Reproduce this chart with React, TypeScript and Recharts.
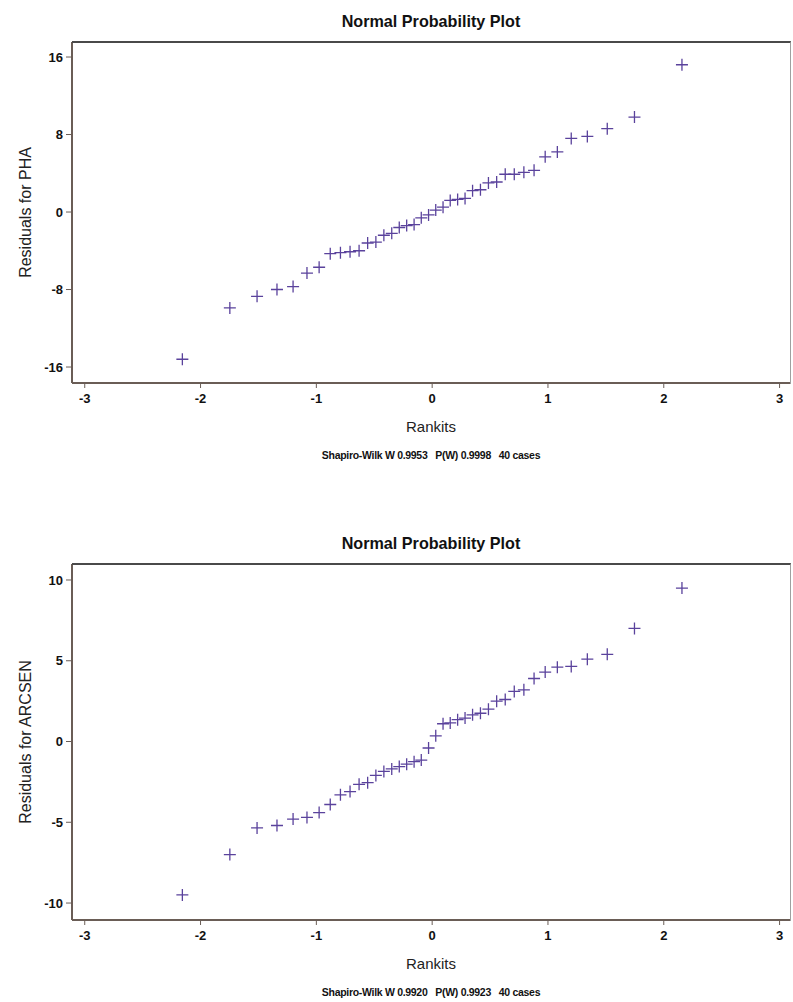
import React from 'react'
import { ScatterChart, Scatter, XAxis, YAxis } from 'recharts'

// rankits for 40 cases (expected normal scores)
const rankits = [
  -2.157, -1.747, -1.512, -1.34, -1.201, -1.081, -0.976, -0.88, -0.792, -0.709,
  -0.631, -0.557, -0.486, -0.417, -0.349, -0.284, -0.22, -0.156, -0.094, -0.031,
  0.031, 0.094, 0.156, 0.22, 0.284, 0.349, 0.417, 0.486, 0.557, 0.631,
  0.709, 0.792, 0.88, 0.976, 1.081, 1.201, 1.34, 1.512, 1.747, 2.157,
]

const phaResiduals = [
  -15.2, -9.9, -8.7, -8.0, -7.7, -6.3, -5.7, -4.3, -4.2, -4.1,
  -4.0, -3.2, -3.1, -2.4, -2.2, -1.6, -1.4, -1.3, -0.6, -0.3,
  0.2, 0.5, 1.2, 1.3, 1.4, 2.2, 2.3, 3.0, 3.1, 3.9,
  3.9, 4.1, 4.3, 5.7, 6.2, 7.6, 7.8, 8.6, 9.8, 15.2,
]

const arcsenResiduals = [
  -9.5, -7.0, -5.35, -5.2, -4.8, -4.7, -4.4, -3.9, -3.3, -3.1,
  -2.65, -2.55, -2.1, -1.85, -1.7, -1.55, -1.4, -1.25, -1.15, -0.4,
  0.35, 1.1, 1.15, 1.35, 1.45, 1.65, 1.75, 2.0, 2.5, 2.6,
  3.1, 3.2, 3.9, 4.3, 4.6, 4.65, 5.1, 5.4, 7.0, 9.5,
]

const xTicks = [-3, -2, -1, 0, 1, 2, 3]
const phaTicks = [-16, -8, 0, 8, 16]
const arcsenTicks = [-10, -5, 0, 5, 10]

const FONT = '"Liberation Sans", Arial, sans-serif'
const MARK = '#5a429c'

const Cross = (props: any) => {
  const { cx, cy } = props
  if (cx == null || cy == null) return null
  return (
    <path
      d={`M${cx - 6},${cy}H${cx + 6}M${cx},${cy - 6}V${cy + 6}`}
      stroke={MARK}
      strokeWidth={1.3}
      fill="none"
    />
  )
}

interface PlotProps {
  top: number
  values: number[]
  yDomain: [number, number]
  yTicks: number[]
  yLabel: string
  subtitle: string
  plotTop: number
  plotBottom: number
  height: number
}

const ProbPlot: React.FC<PlotProps> = ({
  top, values, yDomain, yTicks, yLabel, subtitle, plotTop, plotBottom, height,
}) => {
  const data = rankits.map((r, i) => ({ x: r, y: values[i] }))
  const tickStyle = { fontSize: 13, fontWeight: 700, fill: '#111', fontFamily: FONT }
  return (
    <div style={{ position: 'absolute', left: 0, top, width: 793, height }}>
      <div
        style={{
          position: 'absolute', left: 72, width: 718, top: plotTop - 30, textAlign: 'center',
          fontFamily: FONT, fontWeight: 700, fontSize: 17, color: '#111', transform: 'scaleX(0.95)',
        }}
      >
        Normal Probability Plot
      </div>
      <ScatterChart
        width={793}
        height={height}
        margin={{ top: plotTop, right: 3, bottom: 0, left: 0 }}
      >
        <XAxis
          type="number"
          dataKey="x"
          domain={[-3.11, 3.09]}
          ticks={xTicks}
          allowDataOverflow
          height={height - plotBottom}
          tickSize={5}
          tickMargin={6}
          tick={tickStyle}
          axisLine={{ stroke: '#6a5d56', strokeWidth: 2 }}
          tickLine={{ stroke: '#6a5d56' }}
        />
        <YAxis
          type="number"
          dataKey="y"
          domain={yDomain}
          ticks={yTicks}
          allowDataOverflow
          width={72}
          tickSize={6}
          tickMargin={3}
          tick={tickStyle}
          axisLine={{ stroke: '#6a5d56', strokeWidth: 2 }}
          tickLine={{ stroke: '#6a5d56' }}
          label={{
            value: yLabel,
            content: (p: any) => {
              const vb = p.viewBox || {}
              const cy = vb.y + vb.height / 2
              return (
                <text
                  x={25}
                  y={cy}
                  transform={`rotate(-90 25 ${cy})`}
                  textAnchor="middle"
                  dominantBaseline="central"
                  fontSize={16}
                  fontFamily={FONT}
                  fill="#222"
                >
                  {yLabel}
                </text>
              )
            },
          }}
        />
        <Scatter data={data} shape={<Cross />} isAnimationActive={false} />
      </ScatterChart>
      {/* top and right edges of the plot frame */}
      <div
        style={{
          position: 'absolute', left: 72, top: plotTop - 1, width: 718, height: plotBottom - plotTop,
          borderTop: '2px solid #4a4a4a', borderRight: '1px solid #a0a0a0', pointerEvents: 'none',
        }}
      />
      <div
        style={{
          position: 'absolute', left: 72, width: 718, top: plotBottom + 35, textAlign: 'center',
          fontFamily: FONT, fontSize: 15, color: '#222',
        }}
      >
        Rankits
      </div>
      <div
        style={{
          position: 'absolute', left: 72, width: 718, top: plotBottom + 66, textAlign: 'center',
          fontFamily: FONT, fontWeight: 700, fontSize: 10.5, color: '#111', whiteSpace: 'pre',
          letterSpacing: -0.3,
        }}
      >
        {subtitle}
      </div>
    </div>
  )
}

export default function App() {
  return (
    <div style={{ position: 'absolute', left: 0, top: 0, width: 793, height: 1002, background: '#fff' }}>
      <ProbPlot
        top={0}
        values={phaResiduals}
        yDomain={[-17.65, 17.55]}
        yTicks={phaTicks}
        yLabel="Residuals for PHA"
        subtitle={'Shapiro-Wilk W 0.9953   P(W) 0.9998   40 cases'}
        plotTop={42}
        plotBottom={383}
        height={480}
      />
      <ProbPlot
        top={522}
        values={arcsenResiduals}
        yDomain={[-11.05, 10.99]}
        yTicks={arcsenTicks}
        yLabel="Residuals for ARCSEN"
        subtitle={'Shapiro-Wilk W 0.9920   P(W) 0.9923   40 cases'}
        plotTop={42}
        plotBottom={398}
        height={480}
      />
    </div>
  )
}
